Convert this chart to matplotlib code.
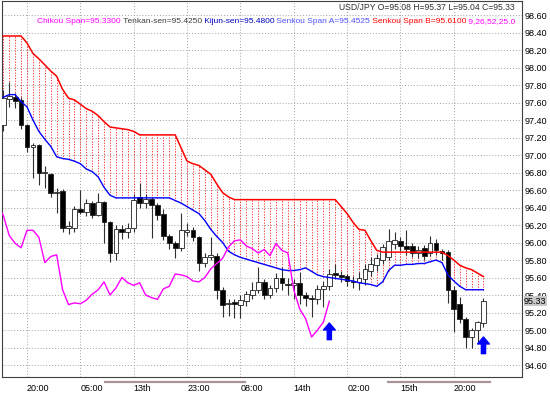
import matplotlib
matplotlib.use("Agg")
import matplotlib.pyplot as plt
from matplotlib.lines import Line2D

# --- données (bougies 0..81) ---
opens = [97.34, 97.64, 97.66, 97.63, 97.34, 97.09, 97.11, 96.79, 96.78, 96.57,
         96.59, 96.17, 96.17, 96.38, 96.35, 96.45, 96.32, 96.46, 96.23, 95.88,
         96.16, 96.12, 96.17, 96.52, 96.45, 96.50, 96.43, 96.33, 96.08, 96.00,
         95.94, 96.12, 96.14, 96.06, 95.77, 95.84, 95.85, 95.46, 95.30, 95.32,
         95.29, 95.33, 95.40, 95.46, 95.55, 95.40, 95.48, 95.60, 95.53, 95.51,
         95.54, 95.40, 95.37, 95.35, 95.47, 95.50, 95.65, 95.63, 95.62, 95.56,
         95.55, 95.58, 95.68, 95.74, 95.80, 95.84, 95.98, 96.02, 95.96, 95.96,
         95.88, 95.94, 95.88, 96.00, 95.90, 95.89, 95.46, 95.30, 95.13, 94.92,
         95.00, 95.08]
highs = [97.74, 97.83, 97.71, 97.66, 97.36, 97.14, 97.13, 96.88, 96.80, 96.62,
         96.61, 96.25, 96.42, 96.60, 96.50, 96.48, 96.57, 96.48, 96.25, 96.20,
         96.20, 96.22, 96.55, 96.68, 96.55, 96.52, 96.45, 96.38, 96.10, 96.02,
         96.34, 96.22, 96.18, 96.08, 95.88, 96.06, 95.88, 95.49, 95.36, 95.36,
         95.40, 95.45, 95.55, 95.72, 95.58, 95.52, 95.65, 95.72, 95.60, 95.58,
         95.66, 95.43, 95.40, 95.52, 95.56, 95.70, 95.76, 95.68, 95.64, 95.62,
         95.66, 95.75, 95.84, 95.87, 95.98, 96.16, 96.12, 96.06, 96.14, 96.00,
         95.96, 95.97, 96.08, 96.04, 95.93, 95.92, 95.50, 95.38, 95.15, 95.02,
         95.10, 95.37]
lows = [97.28, 97.55, 97.54, 97.30, 97.03, 96.74, 96.66, 96.62, 96.52, 96.34,
        96.12, 96.10, 96.12, 96.33, 96.30, 96.28, 96.30, 95.99, 95.78, 95.80,
        96.04, 96.05, 96.12, 96.40, 96.40, 96.05, 96.26, 96.03, 95.93, 95.82,
        95.90, 96.08, 96.02, 95.68, 95.72, 95.80, 95.36, 95.15, 95.16, 95.14,
        95.14, 95.28, 95.36, 95.42, 95.36, 95.37, 95.44, 95.46, 95.40, 95.36,
        95.30, 95.28, 95.15, 95.30, 95.26, 95.46, 95.58, 95.55, 95.50, 95.48,
        95.46, 95.52, 95.62, 95.68, 95.76, 95.80, 95.93, 95.90, 95.86, 95.84,
        95.82, 95.80, 95.85, 95.86, 95.80, 95.31, 94.98, 95.08, 94.80, 94.79,
        94.85, 95.04]
closes = [97.65, 97.67, 97.62, 97.34, 97.09, 97.11, 96.79, 96.80, 96.57, 96.58,
          96.17, 96.19, 96.38, 96.35, 96.45, 96.32, 96.46, 96.23, 95.88, 96.16,
          96.12, 96.17, 96.49, 96.45, 96.50, 96.43, 96.31, 96.08, 95.99, 95.94,
          96.14, 96.14, 96.06, 95.77, 95.84, 95.86, 95.46, 95.29, 95.31, 95.30,
          95.34, 95.41, 95.46, 95.55, 95.40, 95.48, 95.60, 95.54, 95.51, 95.54,
          95.40, 95.37, 95.35, 95.47, 95.50, 95.64, 95.63, 95.61, 95.56, 95.55,
          95.60, 95.70, 95.76, 95.82, 95.95, 96.02, 96.03, 95.96, 95.93, 95.88,
          95.92, 95.85, 95.99, 95.91, 95.88, 95.46, 95.24, 95.13, 94.92, 95.00,
          95.09, 95.33]
senkou_a = [97.66, 97.69, 97.69, 97.61, 97.55, 97.40, 97.27, 97.18, 97.10, 96.98,
            96.96, 96.95, 96.93, 96.90, 96.84, 96.81, 96.75, 96.63, 96.54, 96.51,
            96.51, 96.51, 96.51, 96.51, 96.51, 96.51, 96.51, 96.51, 96.51, 96.48,
            96.45, 96.41, 96.37, 96.33, 96.25, 96.15, 96.07, 96.00, 95.90, 95.86,
            95.83, 95.81, 95.79, 95.77, 95.75, 95.73, 95.71, 95.69, 95.68, 95.68,
            95.69, 95.71, 95.67, 95.63, 95.61, 95.60, 95.59, 95.58, 95.57, 95.56,
            95.54, 95.53, 95.52, 95.50, 95.55, 95.68, 95.74, 95.74, 95.75, 95.75,
            95.76, 95.76, 95.78, 95.80, 95.77, 95.63, 95.56, 95.50, 95.46, 95.46,
            95.46, 95.46]
senkou_b = [98.36, 98.36, 98.36, 98.36, 98.28, 98.16, 98.10, 98.03, 97.96, 97.90,
            97.75, 97.65, 97.63, 97.58, 97.53, 97.50, 97.45, 97.38, 97.32, 97.31,
            97.30, 97.29, 97.27, 97.23, 97.23, 97.23, 97.23, 97.23, 97.23, 97.23,
            97.08, 96.93, 96.90, 96.88, 96.83, 96.78, 96.67, 96.57, 96.52, 96.49,
            96.49, 96.49, 96.49, 96.49, 96.49, 96.49, 96.49, 96.49, 96.49, 96.49,
            96.49, 96.49, 96.49, 96.49, 96.49, 96.49, 96.49, 96.41, 96.33, 96.23,
            96.15, 96.14, 96.02, 95.91, 95.89, 95.89, 95.89, 95.89, 95.89, 95.89,
            95.89, 95.89, 95.89, 95.89, 95.89, 95.85, 95.80, 95.74, 95.71, 95.69,
            95.65, 95.61]
chikou_shift = 26
tick_idx = [4, 13, 22, 31, 40, 49, 58, 67, 76]
tick_labels = ["20:00", "05:00", "13th", "23:00", "08:00", "14th", "02:00", "15th", "20:00"]
arrow_idx = [55, 81]
arrow_tip = [95.08, 94.92]

plt.rcParams['font.family'] = ['Liberation Sans Narrow', 'Liberation Sans', 'DejaVu Sans']
FS = 6.2

W, H = 550, 396
fig = plt.figure(figsize=(W / 100, H / 100), dpi=100)
ax = fig.add_axes([2 / W, 19 / H, 520 / W, 376 / H])

n = len(closes)
idx = list(range(n))

# --- nuage : hachures verticales pointillées ---
ax.vlines(idx, senkou_a, senkou_b, colors='#ff3030', linestyles=(0, (1.2, 1.6)),
          linewidth=0.7, zorder=1)

# --- bougies ---
ax.vlines(idx, lows, highs, colors='#303030', linewidth=0.8, zorder=2)
for i in idx:
    o, c = opens[i], closes[i]
    h = max(abs(c - o), 0.012)
    face = 'white' if c >= o else 'black'
    ax.bar(i, h, bottom=min(o, c), width=0.8, color=face, edgecolor='#202020',
           linewidth=0.6, zorder=3)

# --- lignes Ichimoku ---
ax.plot(idx, senkou_b, color='#ff0000', linewidth=1.1, zorder=4)
ax.plot(idx, senkou_a, color='#0000ff', linewidth=1.0, zorder=4)
ax.plot([i - chikou_shift for i in idx], closes, color='#ff00ff', linewidth=1.0, zorder=5)

# --- flèches bleues ---
for xi, yv in zip(arrow_idx, arrow_tip):
    ax.annotate('', xy=(xi, yv), xytext=(xi, yv - 0.19),
                arrowprops=dict(facecolor='#0000ff', edgecolor='#0000ff', width=3,
                                headwidth=8.5, headlength=5, shrink=0), zorder=6)

# --- axes ---
ax.set_xlim(-0.22, 87.5)
ax.set_ylim(94.463, 98.76)
yt = [round(94.6 + 0.2 * k, 2) for k in range(21)]
ax.set_yticks(yt)
ax.set_yticklabels([f"{v:.2f}" for v in yt])
ax.yaxis.tick_right()
ax.set_xticks(tick_idx)
ax.set_xticklabels(tick_labels)
for lab in ax.get_xticklabels():
    lab.set_horizontalalignment('left')
ax.tick_params(axis='both', length=0, labelsize=FS + 0.3, colors='black')
ax.tick_params(axis='y', pad=2)
ax.tick_params(axis='x', pad=5)
ax.grid(True, color='#a0a0a0', linestyle=(0, (1, 2)), linewidth=0.7)
ax.set_axisbelow(True)
for s in ax.spines.values():
    s.set_color('#404040')
    s.set_linewidth(0.8)

# prix courant sur l'axe
ax.text(1.0 + 2 / 520, closes[-1], f"{closes[-1]:.2f}", transform=ax.get_yaxis_transform(),
        ha='left', va='center', fontsize=FS + 0.3, color='black',
        bbox=dict(boxstyle='square,pad=0.05', facecolor='#c8c8c8', edgecolor='none'),
        zorder=10, clip_on=False)

# barres grises sous l'axe des dates
for x0, x1 in [(105, 245), (388, 490)]:
    fig.add_artist(Line2D([x0 / W, x1 / W], [(H - 382) / H] * 2, color='#a89494',
                          linewidth=1.6))

# --- textes du haut ---
fig.text(515 / W, 1 - 7 / H, "USD/JPY O=95.08 H=95.37 L=95.04 C=95.33",
         ha='right', va='center', fontsize=FS, color='#303030')

LFS = 6.0
pieces = [("Chikou Span=95.3300", '#ff00ff'), (" Tenkan-sen=95.4250", '#404040'),
          (" Kijun-sen=95.4800", '#0000c0'), (" Senkou Span A=95.4525", '#5050ff'),
          (" Senkou Span B=95.6100", '#ff0000'), (" 9,26,52,25.0", '#ff00ff')]
prev = fig.text(37 / W, 1 - 25 / H, pieces[0][0], color=pieces[0][1], fontsize=LFS,
                ha='left', va='bottom')
for txt, col in pieces[1:]:
    prev = fig.add_artist(matplotlib.text.Annotation(
        txt, xy=(1, 0), xycoords=prev, ha='left', va='bottom', color=col, fontsize=LFS))

fig.savefig("out.png", dpi=100)
